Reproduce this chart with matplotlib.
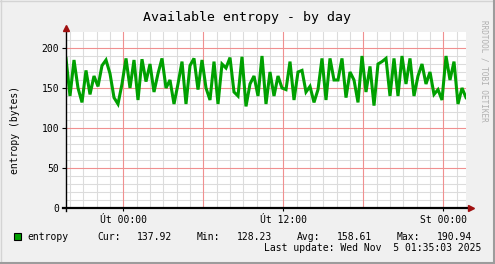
import numpy as np
import matplotlib.pyplot as plt
from matplotlib.lines import Line2D
from matplotlib.patches import Rectangle

plt.rcParams['font.family'] = ['DejaVu Sans Mono']

# available entropy, one sample every 0.3 h,
# first sample at Mon 19:42 (hours counted from Tue 00:00)
start_hour = -4.3
step_hour = 0.3
entropy = [
    187, 140, 185, 150, 132, 172, 142, 165, 152, 178, 185, 168, 138, 130, 155, 187, 150,
    185, 135, 186, 158, 180, 145, 168, 187, 150, 160, 130, 155, 183, 130, 178, 187, 148,
    185, 150, 135, 183, 130, 180, 175, 188, 145, 140, 189, 127, 155, 165, 140, 190, 130,
    170, 140, 165, 150, 148, 183, 135, 170, 172, 145, 152, 132, 148, 187, 135, 187, 160,
    160, 187, 138, 170, 160, 132, 190, 145, 177, 128, 180, 183, 187, 140, 187, 140, 190,
    155, 187, 140, 165, 180, 155, 170, 142, 148, 135, 190, 160, 183, 130, 150, 138,
]
hours = start_hour + step_hour * np.arange(len(entropy))

x_ticks = [0, 12, 24]
x_labels = ['Út 00:00', 'Út 12:00', 'St 00:00']
y_ticks = [0, 50, 100, 150, 200]
stat_names = ['Cur:', 'Min:', 'Avg:', 'Max:']
stat_values = ['137.92', '128.23', '158.61', '190.94']

W, H = 495, 264
def fx(x):
    return x / W
def fy(y):
    return 1 - y / H

fig = plt.figure(figsize=(W / 100, H / 100), dpi=100, facecolor='#f0f0f0')
ax = fig.add_axes([fx(66), fy(208), 400 / W, 176 / H])
ax.set_facecolor('white')
ax.set_xlim(-4.3, 25.7)
ax.set_ylim(0, 220)

# grid: grey every hour / 10 bytes, red every 6 h / 50 bytes
for h in range(-4, 26):
    major = h % 6 == 0
    ax.axvline(h, color='#f09090' if major else '#dcdcdc', lw=0.8, zorder=1 if major else 0)
for v in range(10, 220, 10):
    major = v % 50 == 0
    ax.axhline(v, color='#f09090' if major else '#dcdcdc', lw=0.8, zorder=1 if major else 0)

ax.plot(hours, entropy, color='#00a000', lw=2.2, solid_joinstyle='miter', zorder=3)

for s in ax.spines.values():
    s.set_visible(False)
ax.set_xticks(x_ticks, x_labels, fontsize=7)
ax.set_yticks(y_ticks, [str(v) for v in y_ticks], fontsize=7)
ax.tick_params(axis='x', length=2, width=0.8, pad=3, colors='black')
ax.tick_params(axis='y', length=3, width=0.8, pad=2, colors='black')
fig.text(fx(15), fy(130), 'entropy (bytes)', fontsize=7, rotation=90,
         ha='center', va='center')

# axes with arrows
ax.plot([-0.008, 1.005], [0, 0], transform=ax.transAxes, color='black', lw=1.6,
        clip_on=False, zorder=5)
ax.plot([0, 0], [-0.015, 1.01], transform=ax.transAxes, color='black', lw=1.0,
        clip_on=False, zorder=5)
ax.plot([1.012], [0], marker='>', ms=4, color='#a01010', transform=ax.transAxes,
        clip_on=False, zorder=6)
ax.plot([0], [1.025], marker='^', ms=4, color='#a01010', transform=ax.transAxes,
        clip_on=False, zorder=6)

fig.text(fx(247), fy(17), 'Available entropy - by day', fontsize=9.5,
         ha='center', va='center')
fig.text(fx(484), fy(20), 'RRDTOOL / TOBI OETIKER', fontsize=5.5, color='#b0b0b0',
         rotation=270, ha='center', va='top')

# legend
fig.add_artist(Rectangle((fx(14), fy(240)), 7 / W, 7 / H, transform=fig.transFigure,
                         facecolor='#00a000', edgecolor='black', lw=0.8))
fig.text(fx(27), fy(237), 'entropy', fontsize=7, va='center')
name_x = [97, 197, 297, 397]
value_x = [172, 272, 372, 472]
for nm, val, nx, vx in zip(stat_names, stat_values, name_x, value_x):
    fig.text(fx(nx), fy(237), nm, fontsize=7, va='center')
    fig.text(fx(vx), fy(237), val, fontsize=7, va='center', ha='right')
fig.text(fx(481), fy(248), 'Last update: Wed Nov  5 01:35:03 2025', fontsize=7,
         va='center', ha='right')

# frame around the picture
fig.add_artist(Line2D([0, 1], [fy(0.5), fy(0.5)], transform=fig.transFigure, color='#d4d4d4', lw=1))
fig.add_artist(Line2D([fx(0.5), fx(0.5)], [0, 1], transform=fig.transFigure, color='#d4d4d4', lw=1))
fig.add_artist(Line2D([0, 1], [fy(263), fy(263)], transform=fig.transFigure, color='#9c9c9c', lw=1.5))
fig.add_artist(Line2D([fx(494), fx(494)], [0, 1], transform=fig.transFigure, color='#9c9c9c', lw=1.5))

fig.savefig('out.png', dpi=100, facecolor=fig.get_facecolor())
